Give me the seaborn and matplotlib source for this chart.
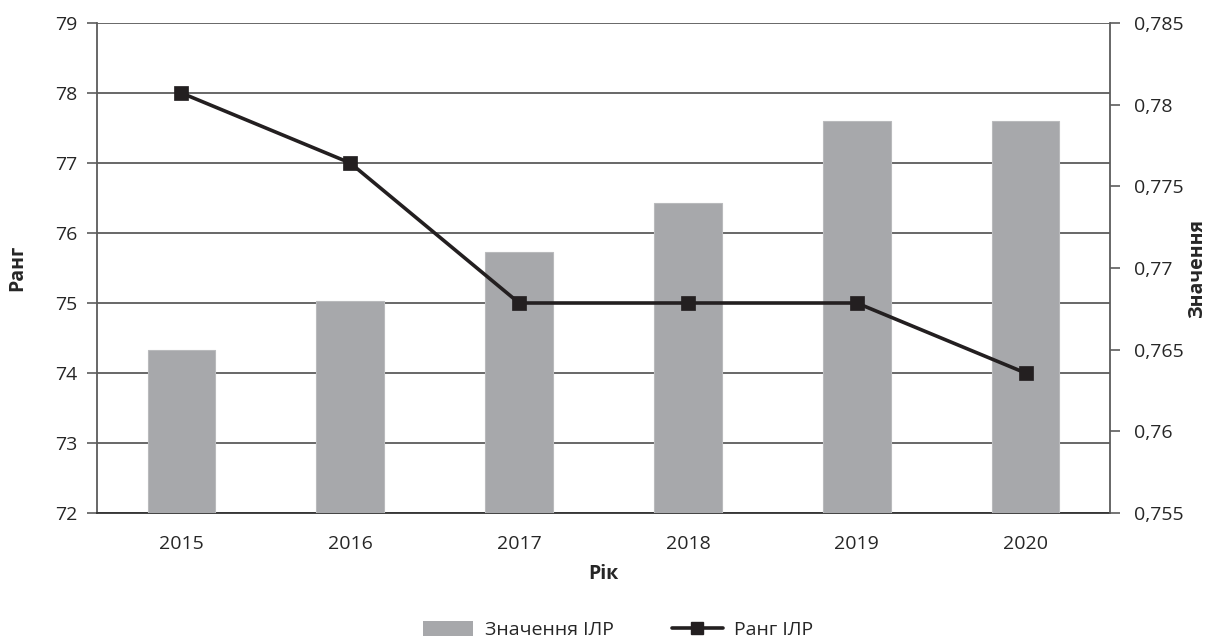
import numpy as np
import pandas as pd
import matplotlib
matplotlib.use("Agg")
import matplotlib.pyplot as plt
import seaborn as sns
from matplotlib.ticker import FuncFormatter, FixedLocator, MultipleLocator
from matplotlib.patches import Patch
from matplotlib.lines import Line2D

years = ["2015", "2016", "2017", "2018", "2019", "2020"]
hdi_value = [0.765, 0.768, 0.771, 0.774, 0.779, 0.779]
hdi_rank = [78, 77, 75, 75, 75, 74]

sns.set_style("white")
plt.rcParams["font.family"] = ["Open Sans", "DejaVu Sans"]

BAR_COLOR = "#a7a8ab"
LINE_COLOR = "#231f20"
GRID_COLOR = "#5c5c5c"
FS = 14

df = pd.DataFrame({"year": years, "value": hdi_value, "rank": hdi_rank})

fig = plt.figure(figsize=(12.12, 6.42), dpi=100)
ax = fig.add_axes([97 / 1212, 1 - 513 / 642, (1110 - 97) / 1212, (513 - 23) / 642])
ax_val = ax.twinx()
ax_line = ax.twinx()

sns.barplot(data=df, x="year", y="value", ax=ax_val, color=BAR_COLOR,
            saturation=1, width=0.4, edgecolor="#b9babc", linewidth=0.8)
sns.pointplot(data=df, x="year", y="rank", ax=ax_line, color=LINE_COLOR,
              markers="s", markersize=9, linewidth=2.6)

# rank axis (left)
ax.set_ylim(72, 79)
ax.yaxis.set_major_locator(FixedLocator(range(72, 80)))
ax.grid(axis="y", color=GRID_COLOR, linewidth=1.3)
ax.grid(axis="x", visible=False)
ax.set_axisbelow(True)
ax.set_ylabel("Ранг", fontsize=FS, fontweight="bold", labelpad=20)

# value axis (right)
ax_val.set_ylim(0.755, 0.785)
ax_val.yaxis.set_major_locator(MultipleLocator(0.005))
ax_val.yaxis.set_major_formatter(
    FuncFormatter(lambda v, p: format(round(v, 3), "g").replace(".", ",")))
ax_val.set_ylabel("Значення", fontsize=FS, fontweight="bold", labelpad=3)
ax_val.set_xlabel("")

# line axis
ax_line.set_ylim(72, 79)
ax_line.yaxis.set_visible(False)
ax_line.set_xlabel("")
ax_line.set_ylabel("")

# x axis
ax.set_xlim(-0.5, 5.5)
ax.xaxis.set_major_locator(FixedLocator(range(len(years))))
ax.set_xticklabels(years)
ax.xaxis.set_minor_locator(FixedLocator(np.arange(-0.5, len(years), 1.0)))
ax.set_xlabel("Рік", fontsize=FS, fontweight="bold", labelpad=8)

ax.tick_params(axis="x", which="major", length=0, labelsize=FS, pad=16)
ax.tick_params(axis="x", which="minor", length=7, width=1.2, color="#333333", direction="out")
ax.tick_params(axis="y", which="major", length=7, width=1.2, color=GRID_COLOR,
               labelsize=FS, pad=7, left=True, direction="out")
ax_val.tick_params(axis="y", which="major", length=7, width=1.2, color=GRID_COLOR,
                   labelsize=FS, pad=10, right=True, direction="out")

for a in (ax, ax_val, ax_line):
    for s in a.spines.values():
        s.set_visible(False)
ax.spines["left"].set_visible(True)
ax.spines["left"].set_color(GRID_COLOR)
ax.spines["left"].set_linewidth(1.3)
ax.spines["bottom"].set_visible(True)
ax.spines["bottom"].set_color("#333333")
ax.spines["bottom"].set_linewidth(1.3)
ax_val.spines["right"].set_visible(True)
ax_val.spines["right"].set_color(GRID_COLOR)
ax_val.spines["right"].set_linewidth(1.3)

handles = [
    Patch(facecolor=BAR_COLOR, edgecolor="none", label="Значення ІЛР"),
    Line2D([], [], color=LINE_COLOR, linewidth=2.6, marker="s", markersize=8,
           label="Ранг ІЛР"),
]
fig.legend(handles=handles, loc="center", bbox_to_anchor=(0.51, 1 - 630 / 642),
           ncol=2, frameon=False, fontsize=FS, handlelength=2.6, handleheight=0.8,
           columnspacing=3.0, handletextpad=0.6)

fig.savefig("out.png", dpi=100)
